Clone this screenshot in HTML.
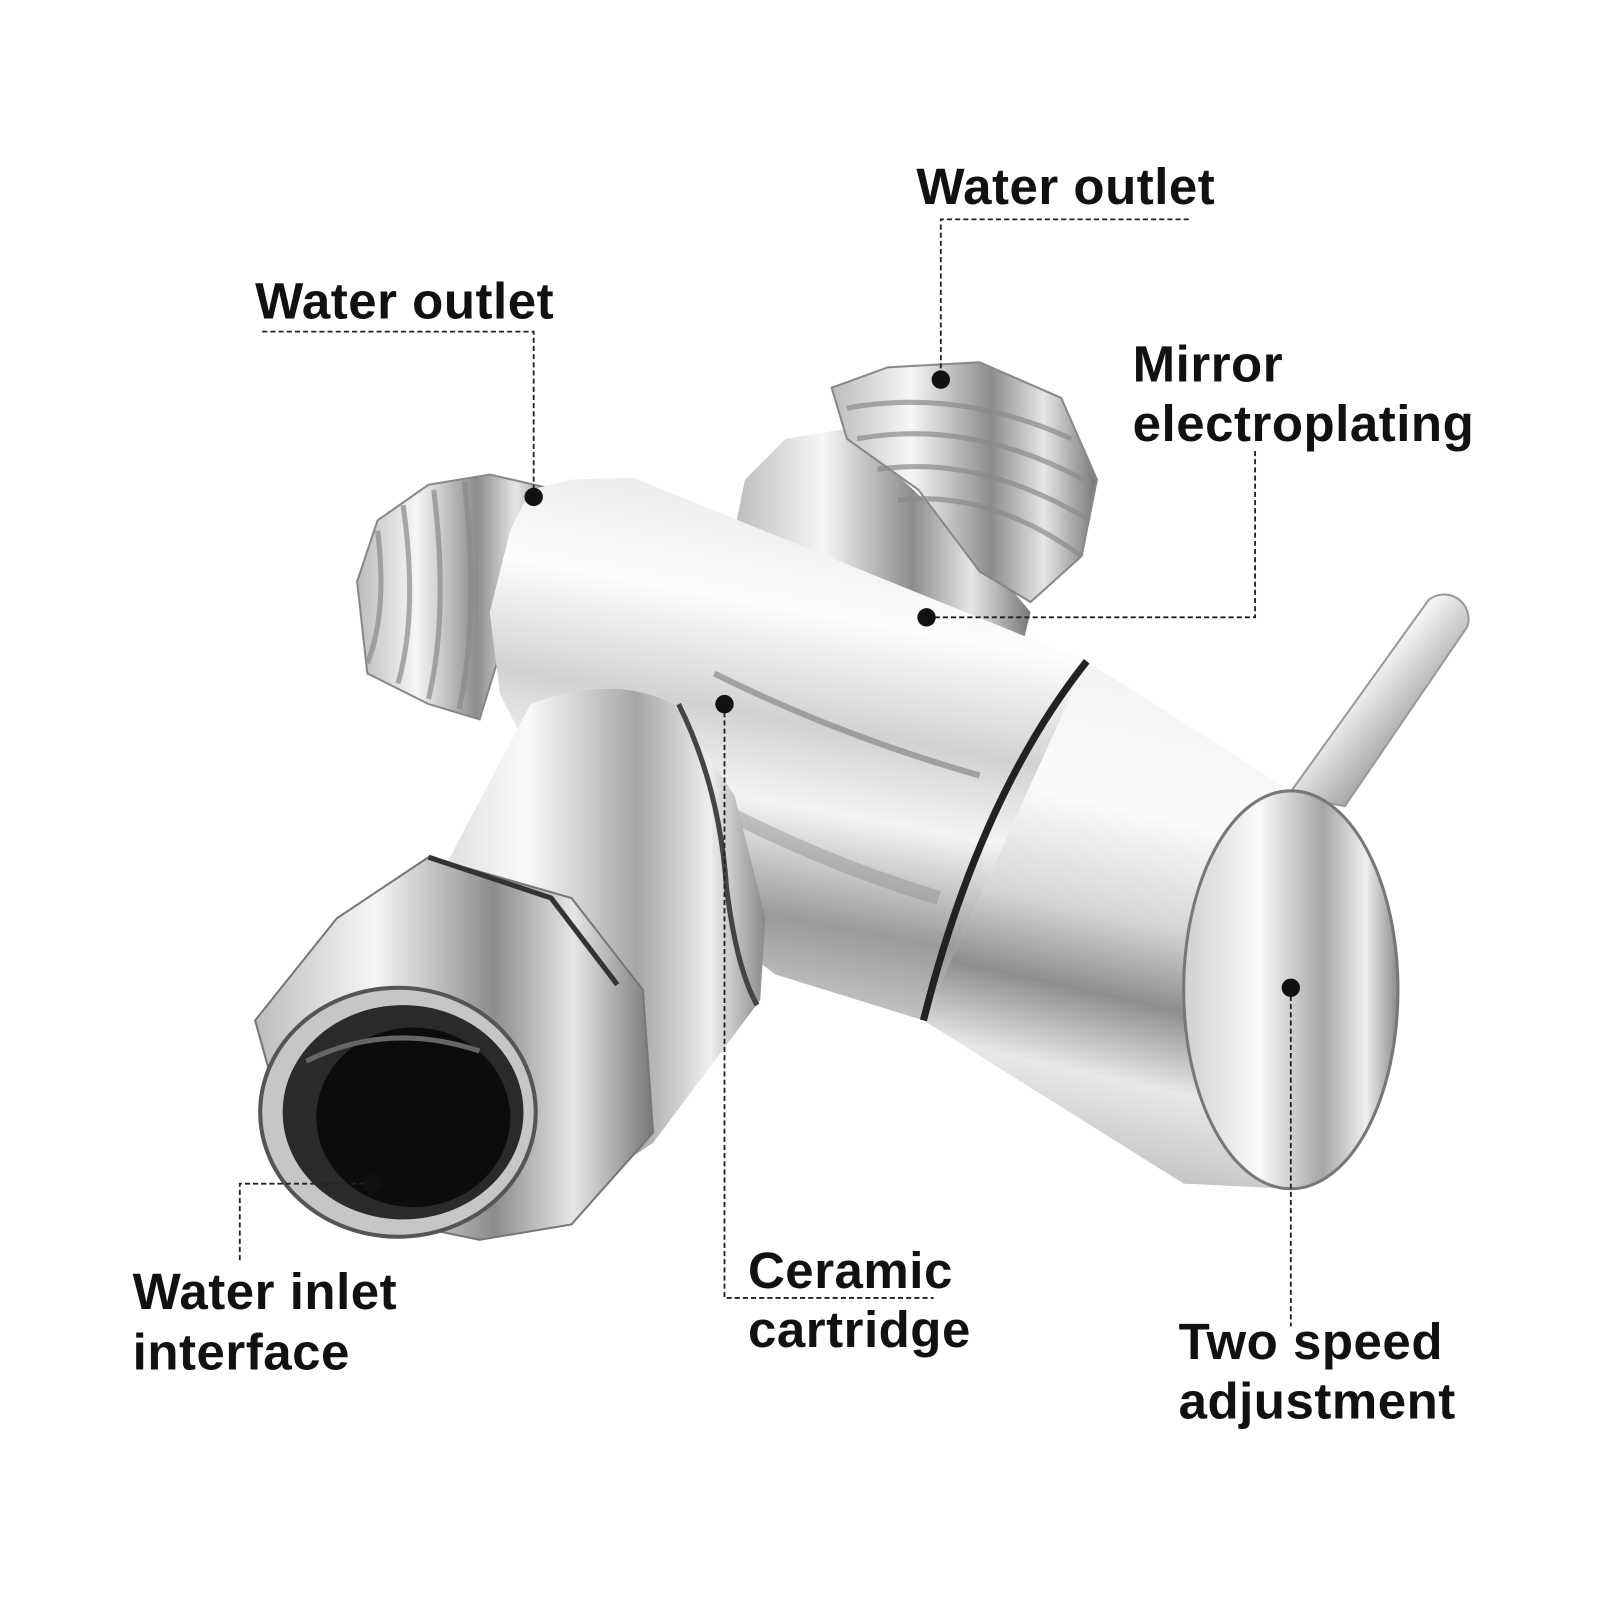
<!DOCTYPE html>
<html><head><meta charset="utf-8"><style>
html,body{margin:0;padding:0;background:#fff;}
svg{display:block;}
text{font-family:"Liberation Sans",sans-serif;font-weight:bold;font-size:50px;letter-spacing:0.5px;fill:#111;}
</style></head><body>
<svg width="1600" height="1600" viewBox="0 0 1568 1568" xmlns="http://www.w3.org/2000/svg">
<defs>
<linearGradient id="g1" x1="0.6" y1="0" x2="0.4" y2="1">
<stop offset="0" stop-color="#f2f2f2"/><stop offset="0.3" stop-color="#fbfbfb"/><stop offset="0.5" stop-color="#d6d6d6"/><stop offset="0.65" stop-color="#8e8e8e"/><stop offset="0.8" stop-color="#e8e8e8"/><stop offset="1" stop-color="#bdbdbd"/></linearGradient>
<linearGradient id="g2" x1="0" y1="0" x2="1" y2="0">
<stop offset="0" stop-color="#bcbcbc"/><stop offset="0.3" stop-color="#f6f6f6"/><stop offset="0.6" stop-color="#8c8c8c"/><stop offset="0.8" stop-color="#e6e6e6"/><stop offset="1" stop-color="#777"/></linearGradient>
<linearGradient id="g3" x1="0.6" y1="0" x2="0.4" y2="1">
<stop offset="0" stop-color="#e6e6e6"/><stop offset="0.25" stop-color="#fdfdfd"/><stop offset="0.45" stop-color="#d2d2d2"/><stop offset="0.6" stop-color="#f4f4f4"/><stop offset="0.8" stop-color="#9a9a9a"/><stop offset="1" stop-color="#d4d4d4"/></linearGradient>
<linearGradient id="g4" x1="0" y1="0" x2="1" y2="0">
<stop offset="0" stop-color="#d0d0d0"/><stop offset="0.35" stop-color="#fafafa"/><stop offset="0.65" stop-color="#a6a6a6"/><stop offset="0.85" stop-color="#eeeeee"/><stop offset="1" stop-color="#8a8a8a"/></linearGradient>
<linearGradient id="g5" x1="0" y1="0" x2="1" y2="1">
<stop offset="0" stop-color="#d8d8d8"/><stop offset="0.4" stop-color="#fafafa"/><stop offset="0.7" stop-color="#9a9a9a"/><stop offset="1" stop-color="#cfcfcf"/></linearGradient>
</defs>
<path d="M730,470 L770,430 L830,420 L960,540 L1010,600 L1000,640 L720,520 Z" fill="url(#g2)"/>
<path d="M815,380 L870,360 L960,355 L1040,390 L1075,470 L1060,545 L1010,590 L960,560 L900,480 L830,430 Z" fill="url(#g2)" stroke="#888" stroke-width="2"/>
<g stroke="#8a8a8a" stroke-width="5" fill="none" opacity="0.7">
<path d="M830,400 Q940,380 1050,430"/><path d="M840,430 Q950,410 1062,470"/><path d="M860,460 Q960,445 1068,510"/><path d="M880,490 Q970,480 1060,545"/></g>
<path d="M350,570 L370,510 L420,475 L480,465 L545,480 L520,560 L490,640 L470,705 L420,690 L360,660 Z" fill="url(#g2)" stroke="#888" stroke-width="2"/>
<g stroke="#8a8a8a" stroke-width="5" fill="none" opacity="0.7">
<path d="M370,520 Q380,600 360,650"/><path d="M395,495 Q410,600 390,670"/><path d="M425,480 Q440,600 420,685"/><path d="M455,472 Q470,600 450,695"/></g>
<path d="M520,480 L560,470 L620,468 L1065,648 L905,1000 L760,955 L700,910 L530,760 L490,680 L480,600 L500,520 Z" fill="url(#g3)"/>
<path d="M700,660 Q820,720 960,760" stroke="#7a7a7a" stroke-width="6" fill="none" opacity="0.6"/>
<path d="M720,800 Q820,850 920,880" stroke="#888" stroke-width="14" fill="none" opacity="0.4"/>
<!-- lever -->
<path d="M1262,780 L1400,588 A24,24 0 0 1 1438,614 L1318,790 Z" fill="url(#g5)" stroke="#999" stroke-width="2"/>
<path d="M1065,648 L1265,775 A105,195 0 0 1 1265,1165 L1160,1160 L905,1000 Z" fill="url(#g1)"/>
<ellipse cx="1265" cy="970" rx="105" ry="195" fill="url(#g4)" stroke="#777" stroke-width="3"/>
<path d="M1065,648 Q960,780 905,1000" stroke="#222" stroke-width="7" fill="none"/>
<path d="M520,690 Q600,660 660,690 L720,780 L750,900 L745,980 L640,1120 L520,1200 L390,1040 L420,880 Z" fill="url(#g4)"/>
<path d="M665,690 Q705,770 712,870 Q722,950 742,985" stroke="#444" stroke-width="5" fill="none"/>
<path d="M250,1000 L330,900 L420,840 L560,880 L630,970 L640,1110 L560,1200 L470,1215 L300,1180 Z" fill="url(#g2)" stroke="#777" stroke-width="2"/>
<path d="M420,840 L540,880 L605,965" stroke="#333" stroke-width="5" fill="none"/>
<ellipse cx="390" cy="1090" rx="135" ry="122" fill="#c6c6c6" stroke="#555" stroke-width="4"/>
<ellipse cx="395" cy="1090" rx="118" ry="105" fill="#2a2a2a"/>
<ellipse cx="405" cy="1095" rx="95" ry="88" fill="#0c0c0c"/>
<path d="M300,1040 Q380,1000 470,1030" stroke="#666" stroke-width="5" fill="none"/>
<g stroke="#222" stroke-width="1.8" stroke-dasharray="5,3" fill="none">
<path d="M1165,215 H922 V372"/>
<path d="M257,325 H523 V487"/>
<path d="M908,605 H1230 V440"/>
<path d="M710,690 V1272 H915"/>
<path d="M365,1160 H235 V1235"/>
<path d="M1265,968 V1300"/>
</g>
<g fill="#111">
<circle cx="922" cy="372" r="9"/><circle cx="523" cy="487" r="9"/><circle cx="908" cy="605" r="9"/>
<circle cx="710" cy="690" r="9"/><circle cx="365" cy="1160" r="9"/><circle cx="1265" cy="968" r="9"/>
</g>
<text x="898" y="200">Water outlet</text>
<text x="250" y="312">Water outlet</text>
<text x="1110" y="374">Mirror</text>
<text x="1110" y="432">electroplating</text>
<text x="130" y="1283">Water inlet</text>
<text x="130" y="1342">interface</text>
<text x="733" y="1262">Ceramic</text>
<text x="733" y="1320">cartridge</text>
<text x="1155" y="1332">Two speed</text>
<text x="1155" y="1390">adjustment</text>
</svg>
</body></html>
